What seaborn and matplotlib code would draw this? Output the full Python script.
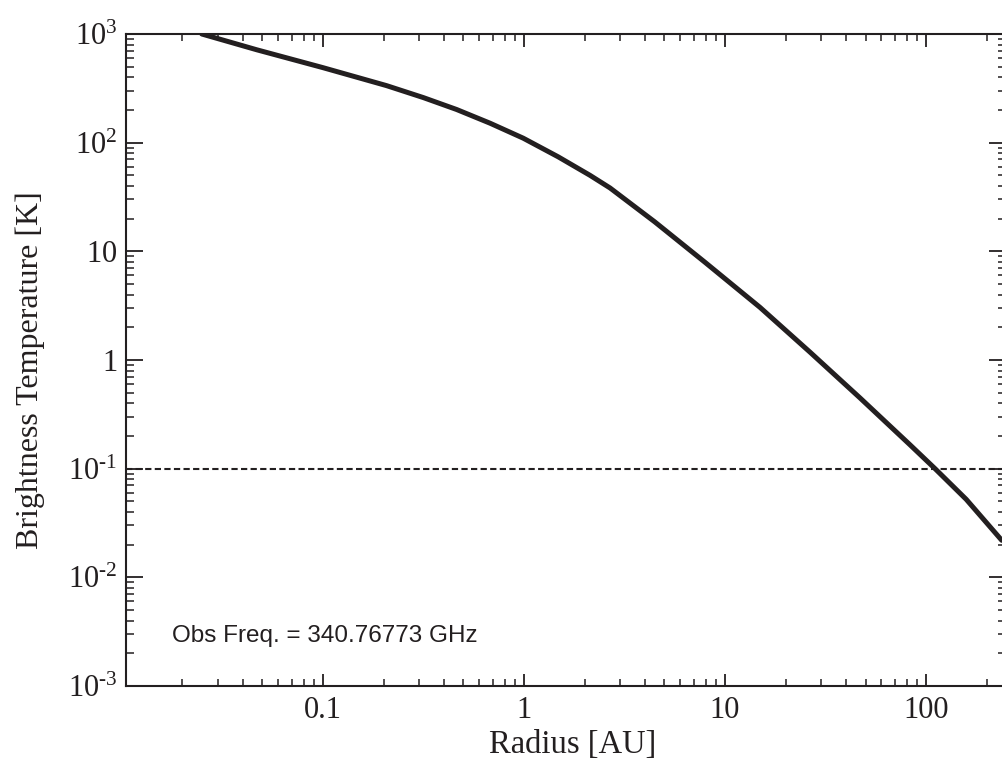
import numpy as np
import pandas as pd
import matplotlib
matplotlib.use("Agg")
import matplotlib.pyplot as plt
import seaborn as sns

# =========================
# data
# =========================
radius_au = [0.02495, 0.0468, 0.1, 0.207, 0.3155, 0.462, 0.678, 0.991,
             1.479, 2.128, 2.679, 4.467, 7.943, 14.93, 26.49, 46.99,
             83.18, 110.9, 158.5, 238.2]
brightness_k = [1000, 716, 490, 335, 260, 202, 151, 110,
                74.1, 50.1, 38.3, 18.7, 7.94, 3.05, 1.18, 0.447,
                0.166, 0.1, 0.0522, 0.0219]

threshold_k = 0.1
y_ticks = [1e-3, 1e-2, 1e-1, 1, 10, 1e2, 1e3]
y_ticklabels = [r"$10^{\text{-}3}$", r"$10^{\text{-}2}$", r"$10^{\text{-}1}$",
                "$1$", "$10$", "$10^{2}$", "$10^{3}$"]
x_ticks = [0.1, 1, 10, 100]
x_ticklabels = ["0.1", "1", "10", "100"]
note = "Obs Freq. = 340.76773 GHz"

df = pd.DataFrame({"radius": radius_au, "tb": brightness_k})

# =========================
# style
# =========================
sns.set_theme(style="ticks")
plt.rcParams["font.family"] = ["Liberation Serif", "DejaVu Serif"]
plt.rcParams["mathtext.fontset"] = "custom"
plt.rcParams["mathtext.rm"] = "Liberation Serif"
plt.rcParams["mathtext.it"] = "Liberation Serif:italic"
plt.rcParams["axes.linewidth"] = 1.5

ink = "#231f20"

fig = plt.figure(figsize=(10.03, 7.64), dpi=100)
ax = fig.add_axes([126 / 1003, 78 / 764, 880 / 1003, 652 / 764])

sns.lineplot(data=df, x="radius", y="tb", ax=ax, color=ink, linewidth=3.6,
             sort=False)
ax.axhline(threshold_k, color=ink, linewidth=1.5, linestyle=(0, (3, 1.6)))

ax.set_xscale("log")
ax.set_yscale("log")
ax.set_xlim(0.01047, 250)
ax.set_ylim(1e-3, 1e3)

ax.set_xticks(x_ticks)
ax.set_xticklabels(x_ticklabels)
ax.set_yticks(y_ticks)
ax.set_yticklabels(y_ticklabels)

for sp in ax.spines.values():
    sp.set_color(ink)
    sp.set_linewidth(1.5)

ax.tick_params(axis="x", which="major", direction="in", length=9, width=1.3,
               top=True, bottom=True, pad=7, labelsize=22, colors=ink)
ax.tick_params(axis="x", which="minor", direction="in", length=5, width=1.1,
               top=True, bottom=True, colors=ink)
ax.tick_params(axis="y", which="major", direction="in", length=12, width=1.3,
               left=True, right=True, pad=6, labelsize=22, colors=ink)
ax.tick_params(axis="y", which="minor", direction="in", length=6, width=1.1,
               left=True, right=True, colors=ink)

ax.set_xlabel("Radius [AU]", fontsize=23.5, color=ink)
ax.set_ylabel("Brightness Temperature [K]", fontsize=23, color=ink)
ax.xaxis.set_label_coords(0.507, -0.066)
ax.yaxis.set_label_coords(-0.092, 0.485)

ax.text(0.052, 0.0675, note, transform=ax.transAxes, va="baseline", ha="left",
        fontsize=17.5, color=ink, family=["Liberation Sans", "DejaVu Sans"])

fig.savefig("out.png", dpi=100)
